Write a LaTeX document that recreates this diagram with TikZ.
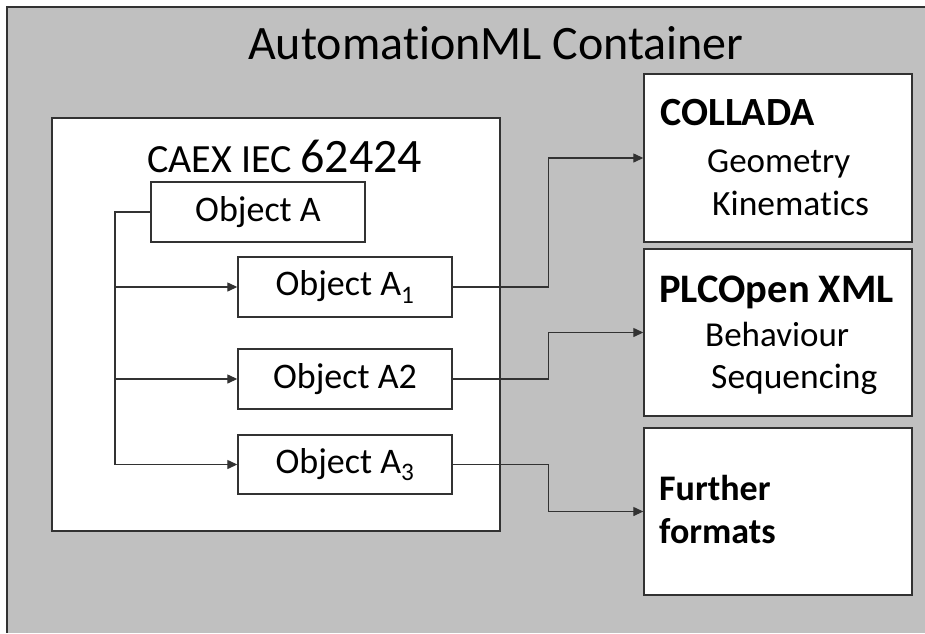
\documentclass[tikz,border=0pt]{standalone}
\usepackage{fontspec}
\setmainfont{Carlito}[RawFeature=-liga]
\usetikzlibrary{arrows.meta}
\definecolor{panel}{RGB}{192,192,192}
\definecolor{edge}{RGB}{50,50,50}
\tikzset{
  box/.style={draw=edge, line width=1.4pt, fill=white, rectangle, inner sep=0pt},
  objbox/.style={box, minimum width=214pt, minimum height=60pt, font=\fontsize{36}{40}\selectfont},
  fmtbox/.style={box, minimum width=268pt, minimum height=167pt},
  link/.style={draw=edge, line width=1.3pt},
  arr/.style={link, -{Triangle[length=10pt,width=9pt]}},
  lbl/.style={anchor=base west, inner sep=0pt}
}
\begin{document}
\begin{tikzpicture}[x=1pt, y=-1pt]
  \useasboundingbox (0,0) rectangle (925,633);
  \fill[white] (0,0) rectangle (925,633);
  % outer container
  \fill[panel] (7,7) rectangle (925,633);
  \draw[edge, line width=2pt] (925,7) -- (7,7) -- (7,633);
  \node[lbl, font=\fontsize{48}{52}\selectfont] (title) at (248,59) {AutomationML Container};

  % CAEX block
  \node[box, minimum width=448pt, minimum height=413pt] (caex) at (276,324.5) {};
  \node[lbl] (caextitle) at (147,172) {\fontsize{40}{42}\selectfont CAEX IEC \fontsize{48}{50}\selectfont 62424};
  \node[objbox] (objA) at (258,212) {Object A};
  \node[objbox] (a1) at (345,287) {Object A\textsubscript{1}};
  \node[objbox] (a2) at (345,379) {Object A2};
  \node[objbox, minimum height=59pt] (a3) at (345,464.5) {Object A\textsubscript{3}};

  % format blocks
  \node[fmtbox, minimum height=168pt] (collada) at (778,158) {};
  \node[fmtbox] (plc) at (778,332.5) {};
  \node[fmtbox] (further) at (778,511.5) {};

  \node[lbl, font=\fontsize{40}{44}\selectfont\bfseries] (t1) at (660,125) {COLLADA};
  \node[lbl, font=\fontsize{35}{40}\selectfont] (t2) at (707,172) {Geometry};
  \node[lbl, font=\fontsize{35.5}{40}\selectfont] (t3) at (712,215) {Kinematics};
  \node[lbl, font=\fontsize{40.5}{44}\selectfont\bfseries] (t4) at (659,302) {PLCOpen XML};
  \node[lbl, font=\fontsize{35}{40}\selectfont] (t5) at (705,346) {Behaviour};
  \node[lbl, font=\fontsize{35.5}{40}\selectfont] (t6) at (711,388) {Sequencing};
  \node[lbl, font=\fontsize{36}{40}\selectfont\bfseries] (t7) at (659,500) {Further};
  \node[lbl, font=\fontsize{36}{40}\selectfont\bfseries] (t8) at (659,543) {formats};

  % hierarchy inside CAEX
  \coordinate (trunk) at (115,212);
  \draw[arr] (objA.west) -- (trunk) |- (a3.west);
  \draw[arr] (trunk |- a1.west) -- (a1.west);
  \draw[arr] (trunk |- a2.west) -- (a2.west);

  % links to the formats
  \draw[arr] (a1.east) -- ++(96,0) |- (collada.west);
  \draw[arr] (a2.east) -- ++(96,0) |- (plc.west);
  \draw[arr] (a3.east) -- ++(96,0) |- (further.west);
\end{tikzpicture}
\end{document}
